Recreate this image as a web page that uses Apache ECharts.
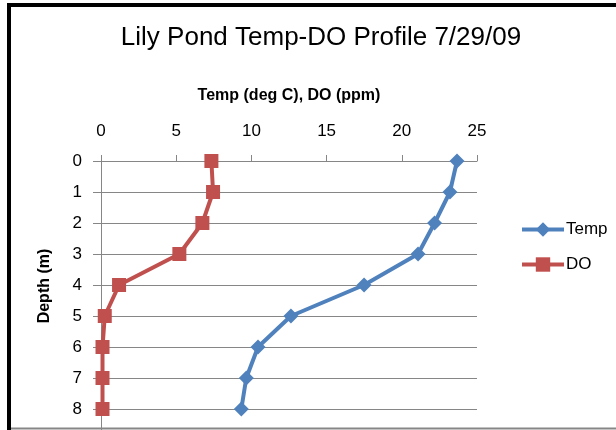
<!doctype html>
<html lang="en">
<head>
    <meta charset="utf-8">
    <title>Lily Pond Temp-DO Profile</title>
    <style>
        html, body { margin: 0; padding: 0; background: #fff; }
        #chart { width: 616px; height: 430px; }
    </style>
</head>
<body>
    <div id="chart"></div>
    <script src="https://cdn.jsdelivr.net/npm/echarts@6/dist/echarts.min.js"></script>
    <script>
        // depth (m) and the two profiles
        var depths = [0, 1, 2, 3, 4, 5, 6, 7, 8];
        var tempValues = [23.67, 23.2, 22.18, 21.08, 17.49, 12.63, 10.44, 9.66, 9.33];
        var doValues = [7.34, 7.45, 6.74, 5.21, 1.2, 0.25, 0.1, 0.1, 0.1];
        var seriesNames = ['Temp', 'DO'];

        function pairs(vals) {
            return vals.map(function (v, i) { return [v, depths[i]]; });
        }

        var chart = echarts.init(document.getElementById('chart'), null, { renderer: 'canvas' });
        var grey = '#868686';

        chart.setOption({
            animation: false,
            backgroundColor: '#fff',
            textStyle: { fontFamily: 'Liberation Sans' },
            title: {
                text: 'Lily Pond Temp-DO Profile 7/29/09',
                left: 316,
                top: 20,
                textAlign: 'center',
                textStyle: { fontSize: 26, fontWeight: 'normal', color: '#000', fontFamily: 'Liberation Sans' }
            },
            legend: {
                orient: 'vertical',
                left: 515,
                top: 216,
                itemWidth: 42,
                itemHeight: 18,
                itemGap: 18,
                data: seriesNames,
                lineStyle: { width: 4 },
                textStyle: { fontSize: 17, color: '#000', padding: [0, 0, 0, -3] }
            },
            grid: { left: 101, top: 161, width: 376, height: 279, outerBoundsMode: 'none', containLabel: false },
            xAxis: {
                type: 'value',
                position: 'top',
                min: 0, max: 25, interval: 5,
                name: 'Temp (deg C), DO (ppm)',
                nameLocation: 'middle',
                nameGap: 57,
                nameTextStyle: { fontSize: 16, fontWeight: 'bold', color: '#000' },
                axisLine: { show: true, lineStyle: { color: grey, width: 1 } },
                axisTick: { show: true, length: 6, lineStyle: { color: grey } },
                axisLabel: { fontSize: 17, color: '#000', margin: 21 },
                splitLine: { show: false }
            },
            yAxis: {
                type: 'value',
                inverse: true,
                min: 0, max: 9, interval: 1,
                axisLine: { show: true, lineStyle: { color: grey, width: 1 } },
                axisTick: { show: true, length: 8, lineStyle: { color: grey } },
                axisLabel: { fontSize: 17, color: '#000', margin: 19 },
                splitLine: { show: true, lineStyle: { color: grey, width: 1 } }
            },
            graphic: [
                {
                    type: 'rect',
                    shape: { x: 9, y: 5, width: 700, height: 500 },
                    style: { fill: 'none', stroke: '#000', lineWidth: 4 },
                    z: 100
                },
                {
                    type: 'line',
                    shape: { x1: 11, y1: 428.5, x2: 616, y2: 428.5 },
                    style: { stroke: grey, lineWidth: 2 },
                    z: 100
                },
                {
                    type: 'text',
                    x: 45,
                    y: 286,
                    rotation: Math.PI / 2,
                    style: {
                        text: 'Depth (m)',
                        align: 'center',
                        verticalAlign: 'middle',
                        font: 'bold 16px "Liberation Sans"',
                        fill: '#000'
                    }
                }
            ],
            series: [
                {
                    name: seriesNames[0],
                    type: 'line',
                    data: pairs(tempValues),
                    symbol: 'diamond',
                    symbolSize: 15,
                    color: '#4F81BD',
                    lineStyle: { width: 4, color: '#4F81BD' },
                    itemStyle: { color: '#4F81BD' }
                },
                {
                    name: seriesNames[1],
                    type: 'line',
                    data: pairs(doValues),
                    symbol: 'rect',
                    symbolSize: 14,
                    color: '#C0504D',
                    lineStyle: { width: 4, color: '#C0504D' },
                    itemStyle: { color: '#C0504D' }
                }
            ]
        });
    </script>
</body>
</html>
